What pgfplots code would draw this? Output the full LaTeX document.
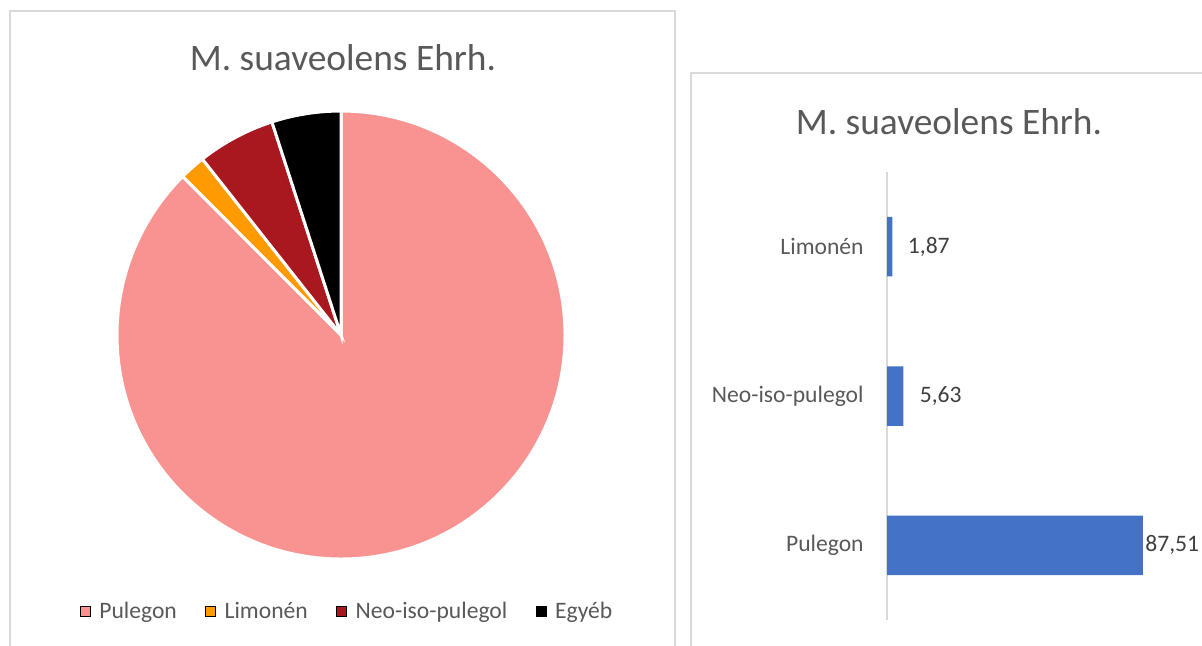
\documentclass[border=0pt]{standalone}
\usepackage{pgfplots}
\pgfplotsset{compat=1.18}
\usepackage{pgfplotstable}
\usepackage{fontspec}
\setmainfont{Carlito}
\definecolor{cPul}{HTML}{F99391}
\definecolor{cLim}{HTML}{FF9A00}
\definecolor{cNeo}{HTML}{A9171F}
\definecolor{cEgy}{HTML}{000000}
\definecolor{barblue}{HTML}{4472C4}
\definecolor{labgray}{HTML}{595959}
\definecolor{valgray}{HTML}{404040}
\definecolor{framegray}{HTML}{D9D9D9}

\pgfplotstableread{
name value
Pulegon 87.51
Limonen 1.87
Neo 5.63
Egyeb 4.99
}\piedata

\pgfplotstableread{
y value off
0 87.51 1
1 5.63 8
2 1.87 7.5
}\bardata

\pgfplotstablegetelem{0}{value}\of\piedata\edef\vA{\pgfplotsretval}
\pgfplotstablegetelem{1}{value}\of\piedata\edef\vB{\pgfplotsretval}
\pgfplotstablegetelem{2}{value}\of\piedata\edef\vC{\pgfplotsretval}
\pgfplotstablegetelem{3}{value}\of\piedata\edef\vD{\pgfplotsretval}
\pgfmathsetmacro\aA{90}
\pgfmathsetmacro\aB{\aA-3.6*\vA}
\pgfmathsetmacro\aC{\aB-3.6*\vB}
\pgfmathsetmacro\aD{\aC-3.6*\vC}
\pgfmathsetmacro\aE{\aD-3.6*\vD}

\begin{document}
\begin{tikzpicture}
% panel frames
\draw[framegray, line width=0.6pt] (5pt,-5.5pt) rectangle (337.5pt,-340pt);
\draw[framegray, line width=0.6pt] (345.5pt,-36.5pt) rectangle (620pt,-340pt);
% titles
\node[font=\fontsize{18.7}{22}\selectfont, text=labgray] at (171.5pt,-29pt) {M. suaveolens Ehrh.};
\node[font=\fontsize{18.7}{22}\selectfont, text=labgray] at (474.5pt,-61pt) {M. suaveolens Ehrh.};

% pie
\begin{axis}[
  at={(170.5pt,-167.5pt)}, anchor=center,
  scale only axis, width=224pt, height=224pt,
  xmin=-1, xmax=1, ymin=-1, ymax=1,
  hide axis, clip=false,
  legend columns=4,
  legend image code/.code={\fill[#1] (0pt,-2.5pt) rectangle (5pt,2.5pt);},
  legend style={at={(0.516,-0.118)}, anchor=center, draw=none,
    font=\fontsize{11.8}{14}\selectfont, text=labgray,
    /tikz/every odd column/.append style={column sep=2.25pt},
    /tikz/every even column/.append style={column sep=12.25pt}},
]
\fill[cPul, draw=white, line width=1.5pt] (axis cs:0,0) -- (axis cs:{cos(\aA)},{sin(\aA)}) arc[start angle=\aA, end angle=\aB, radius=112pt] -- cycle;
\fill[cLim, draw=white, line width=1.5pt] (axis cs:0,0) -- (axis cs:{cos(\aB)},{sin(\aB)}) arc[start angle=\aB, end angle=\aC, radius=112pt] -- cycle;
\fill[cNeo, draw=white, line width=1.5pt] (axis cs:0,0) -- (axis cs:{cos(\aC)},{sin(\aC)}) arc[start angle=\aC, end angle=\aD, radius=112pt] -- cycle;
\fill[cEgy, draw=white, line width=1.5pt] (axis cs:0,0) -- (axis cs:{cos(\aD)},{sin(\aD)}) arc[start angle=\aD, end angle=\aE, radius=112pt] -- cycle;
\addlegendimage{fill=cPul}\addlegendentry{Pulegon}
\addlegendimage{fill=cLim}\addlegendentry{Limonén}
\addlegendimage{fill=cNeo}\addlegendentry{Neo-iso-pulegol}
\addlegendimage{fill=cEgy}\addlegendentry{Egyéb}
\end{axis}

% bar chart
\begin{axis}[
  at={(443.5pt,-310pt)}, anchor=south west,
  scale only axis, width=146.25pt, height=224pt,
  xmin=0, xmax=100, ymin=-0.5, ymax=2.5,
  xbar, bar width=29.75pt,
  axis x line=none, axis y line*=left,
  y axis line style={color=framegray, line width=0.75pt},
  xtick=\empty,
  ytick={0,1,2}, yticklabels={Pulegon,Neo-iso-pulegol,Limonén},
  major tick length=0pt,
  yticklabel style={font=\fontsize{11.8}{14}\selectfont, text=labgray, inner sep=0pt, xshift=-11.5pt},
  clip=false,
  nodes near coords, point meta=x,
  visualization depends on={\thisrow{off}\as\labshift},
  nodes near coords style={font=\fontsize{11.8}{14}\selectfont, text=valgray, anchor=west, inner sep=0pt, xshift=\labshift pt},
  /pgf/number format/.cd, use comma, fixed, fixed zerofill, precision=2, assume math mode=true,
]
\addplot[fill=barblue, draw=none] table[x=value, y=y] {\bardata};
\end{axis}

\pgfresetboundingbox
\useasboundingbox (0,0) rectangle (601pt,-322.5pt);
\end{tikzpicture}
\end{document}
